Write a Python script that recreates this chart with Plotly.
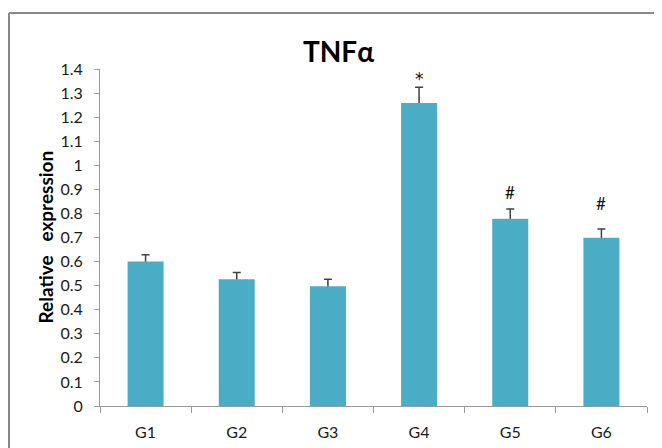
import plotly.graph_objects as go

groups = ["G1", "G2", "G3", "G4", "G5", "G6"]
values = [0.600, 0.527, 0.497, 1.259, 0.778, 0.699]
errors = [0.028, 0.028, 0.030, 0.065, 0.040, 0.036]
sig_labels = ["", "", "", "*", "#", "#"]
sig_y = [None, None, None, 1.360, 0.889, 0.843]
y_ticks = [round(i * 0.1, 1) for i in range(15)]
y_tick_text = ["0", "0.1", "0.2", "0.3", "0.4", "0.5", "0.6", "0.7", "0.8", "0.9",
               "1", "1.1", "1.2", "1.3", "1.4"]

FONT = "Lato"
OFF = 8  # default body margin of the page
W, H = 662 - OFF, 448 - OFF
L, R, T, B = 100 - OFF, 15, 69 - OFF, 42
pw, ph = W - L - R, H - T - B

fig = go.Figure()
# error bars (symmetric, lower half hidden beneath the bars drawn on top)
fig.add_trace(go.Scatter(
    x=groups, y=values, mode="markers", marker=dict(size=1, opacity=0),
    error_y=dict(type="data", array=errors, color="#404040", thickness=1.5, width=4),
    hoverinfo="skip", yaxis="y",
))
fig.add_trace(go.Bar(
    x=groups, y=values, width=0.395, yaxis="y2",
    marker=dict(color="#4BACC6", line=dict(width=0)),
))

annotations = []
for g, lab, yy in zip(groups, sig_labels, sig_y):
    if lab:
        if lab == "*":
            f = dict(family="DejaVu Sans", size=17, color="#111")
        else:
            f = dict(family=FONT, size=17, color="#111")
        annotations.append(dict(x=g, y=yy, xref="x", yref="y", text=lab, showarrow=False,
                                font=f, xanchor="center", yanchor="middle"))

annotations.append(dict(x=(45 - 100) / pw, y=0.5, xref="paper", yref="paper",
                        text="<b>Relative&nbsp;&nbsp; expression</b>", textangle=-90,
                        showarrow=False,
                        font=dict(family=FONT, size=19, color="#000"),
                        xanchor="center", yanchor="middle"))
annotations.append(dict(x=(338 - 100) / pw, y=1 + (69 - 51) / ph, xref="paper", yref="paper",
                        text="<b>TNFα</b>", showarrow=False,
                        font=dict(family=FONT, size=28, color="#000"),
                        xanchor="center", yanchor="middle"))

fx0 = (8 + 1 - 100) / pw
fy0 = 1 + (69 - 13) / ph
shapes = [
    dict(type="line", xref="paper", yref="paper", x0=fx0, x1=(662 - 100) / pw + 0.02,
         y0=fy0, y1=fy0, line=dict(color="#888888", width=2)),
    dict(type="line", xref="paper", yref="paper", x0=fx0, x1=fx0,
         y0=fy0, y1=-0.2, line=dict(color="#888888", width=2)),
]

fig.update_layout(
    width=W, height=H,
    margin=dict(l=L, r=R, t=T, b=B, autoexpand=False),
    paper_bgcolor="white", plot_bgcolor="white",
    showlegend=False,
    annotations=annotations,
    shapes=shapes,
    xaxis=dict(type="category", range=[-0.5, 5.5], showline=True, linecolor="#999999",
               linewidth=1, ticks="outside", tickson="boundaries", ticklen=6,
               tickcolor="#999999", showgrid=False, zeroline=False,
               tickfont=dict(family=FONT, size=16, color="#1a1a1a"),
               ticklabelstandoff=12),
    yaxis=dict(range=[0, 1.4], tickvals=y_ticks, ticktext=y_tick_text, showline=True,
               linecolor="#999999", linewidth=1, ticks="outside", ticklen=5,
               tickcolor="#999999", showgrid=False, zeroline=False,
               tickfont=dict(family=FONT, size=16, color="#1a1a1a"),
               ticklabelstandoff=8),
    yaxis2=dict(range=[0, 1.4], overlaying="y", visible=False, showgrid=False,
                zeroline=False),
    bargap=0.6,
)

fig.write_html("out.html")
